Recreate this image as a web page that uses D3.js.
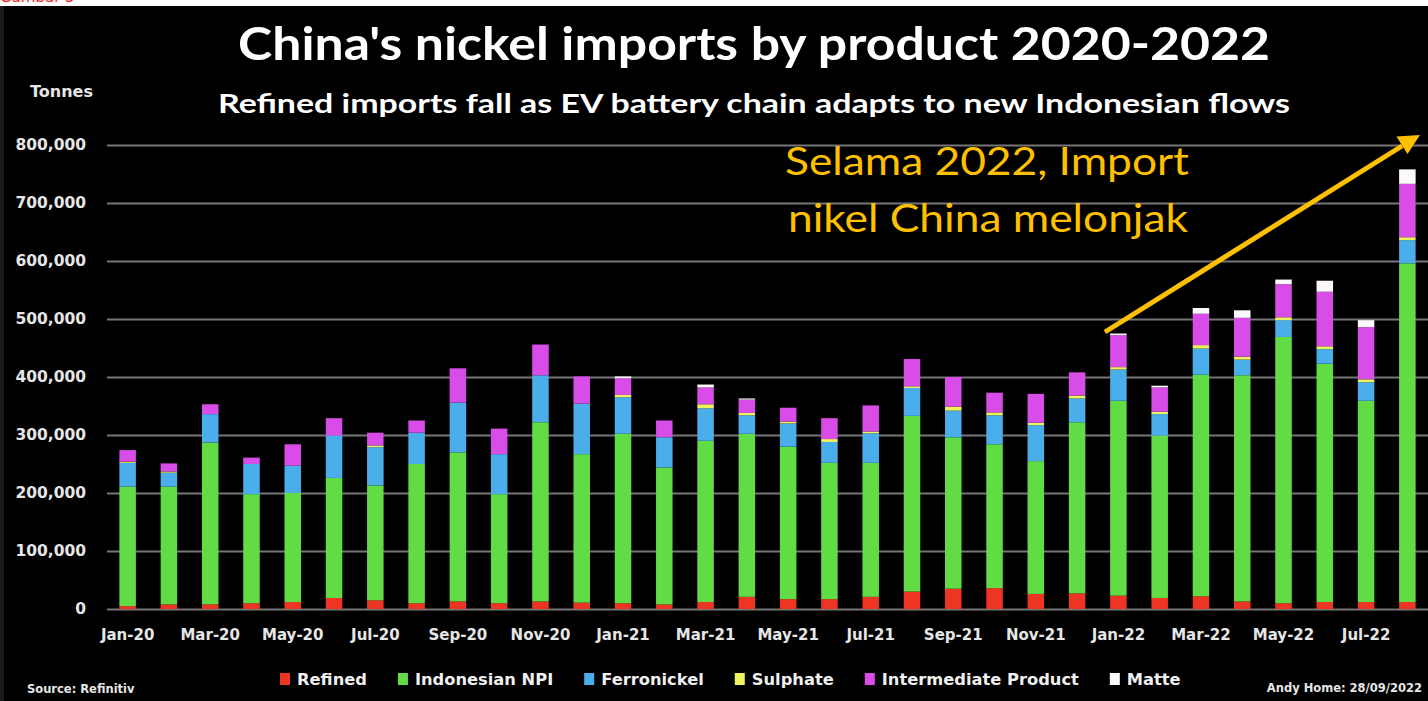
<!DOCTYPE html>
<html>
<head>
<meta charset="utf-8">
<script src="https://cdn.jsdelivr.net/npm/d3@7"></script>
<style>
  html, body { margin: 0; padding: 0; background: #000; }
  svg { display: block; }
</style>
</head>
<body>
<svg id="chart" width="1428" height="701"></svg>
<script>
// Monthly imports, tonnes
const months = [
  "Jan-20","Feb-20","Mar-20","Apr-20","May-20","Jun-20","Jul-20","Aug-20","Sep-20","Oct-20","Nov-20","Dec-20",
  "Jan-21","Feb-21","Mar-21","Apr-21","May-21","Jun-21","Jul-21","Aug-21","Sep-21","Oct-21","Nov-21","Dec-21",
  "Jan-22","Feb-22","Mar-22","Apr-22","May-22","Jun-22","Jul-22","Aug-22"
];
const refined      = [5000,8000,8000,10000,12000,19000,15000,10000,13000,10000,13000,11000,10000,8000,12000,21000,17000,17000,21000,30000,35000,36000,26000,27000,23000,19000,22000,13000,10000,12000,12000,12000];
const indonesianNPI= [206000,203000,279000,188000,188000,207000,198000,240000,257000,188000,309000,256000,292000,236000,278000,281000,263000,235000,231000,303000,261000,248000,229000,295000,336000,280000,382000,390000,459000,411000,347000,584000];
const ferronickel  = [41000,24000,49000,52000,47000,73000,66000,54000,86000,69000,81000,87000,63000,52000,56000,32000,40000,36000,51000,48000,46000,50000,62000,41000,54000,37000,45000,27000,29000,25000,32000,40000];
const sulphate     = [2000,2000,0,0,0,0,3000,0,0,0,0,0,4000,0,7000,4000,3000,5000,3000,3000,7000,5000,4000,5000,4000,4000,6000,5000,5000,5000,5000,5000];
const intermediate = [20000,14000,17000,11000,37000,30000,22000,21000,59000,44000,53000,47000,29000,29000,29000,23000,24000,36000,45000,47000,51000,34000,50000,40000,55000,42000,54000,67000,57000,94000,90000,92000];
const matte        = [0,0,0,0,0,0,0,0,0,0,0,0,3000,0,5000,2000,0,0,0,0,0,0,0,0,3000,3000,10000,13000,8000,19000,12000,25000];

const seriesNames  = ["Refined","Indonesian NPI","Ferronickel","Sulphate","Intermediate Product","Matte"];
const seriesValues = [refined, indonesianNPI, ferronickel, sulphate, intermediate, matte];
const seriesColors = ["#ee3524","#61dc45","#4aaeea","#eef25c","#d84ce8","#fbf7fb"];
const yTicks = [0,100000,200000,300000,400000,500000,600000,700000,800000];
const xTickLabels = months.filter((m, i) => i % 2 === 0);

const svg = d3.select("#chart");
const W = 1428, H = 701;

svg.append("rect").attr("width", W).attr("height", H).attr("fill", "#000");
// white strip along the top with the figure caption
svg.append("rect").attr("width", W).attr("height", 6).attr("fill", "#fff");
svg.append("text").attr("x", 0).attr("y", 2)
  .attr("font-family", "DejaVu Sans").attr("font-size", 15).attr("fill", "#ff1a1a")
  .text("Gambar 5");
svg.append("rect").attr("x", 0).attr("y", 6).attr("width", 4).attr("height", H - 6).attr("fill", "#1c1c1c");

const x = d3.scaleBand().domain(months).range([107, W]).paddingInner(0.6).paddingOuter(0.3);
const y = d3.scaleLinear().domain([0, 800000]).range([609, 145]);

// gridlines + y labels
const yAxis = svg.append("g").attr("transform", "translate(107,0)")
  .call(d3.axisLeft(y).tickValues(yTicks).tickSize(-(W - 107)).tickPadding(21).tickFormat(d3.format(",")));
yAxis.select(".domain").remove();
yAxis.selectAll(".tick line").attr("stroke", "#767676").attr("stroke-width", 2.2);
yAxis.selectAll(".tick text")
  .attr("fill", "#e6e6e6").attr("font-family", "DejaVu Sans").attr("font-weight", "bold").attr("font-size", 15.5);

// stacked bars
const rows = months.map((m, i) => {
  const r = { month: m };
  seriesNames.forEach((s, k) => { r[s] = seriesValues[k][i]; });
  return r;
});
const stacked = d3.stack().keys(seriesNames)(rows);
svg.append("g").selectAll("g").data(stacked).join("g")
  .attr("fill", (d, k) => seriesColors[k])
  .selectAll("rect").data(d => d).join("rect")
  .attr("x", d => x(d.data.month))
  .attr("width", x.bandwidth())
  .attr("y", d => y(d[1]))
  .attr("height", d => Math.max(0, y(d[0]) - y(d[1])));

// x labels
const xAxis = svg.append("g").attr("transform", "translate(0,609)")
  .call(d3.axisBottom(x).tickValues(xTickLabels).tickSize(0).tickPadding(20));
xAxis.select(".domain").remove();
xAxis.selectAll(".tick text")
  .attr("fill", "#e6e6e6").attr("font-family", "DejaVu Sans").attr("font-weight", "bold").attr("font-size", 15);

// axis unit
svg.append("text").attr("x", 30).attr("y", 97)
  .attr("fill", "#e6e6e6").attr("font-family", "DejaVu Sans").attr("font-weight", "bold").attr("font-size", 16)
  .text("Tonnes");

// titles
svg.append("text").attr("x", 238).attr("y", 60)
  .attr("fill", "#fff").attr("font-family", "Lato").attr("font-weight", "bold").attr("font-size", 46)
  .attr("textLength", 1032).attr("lengthAdjust", "spacingAndGlyphs")
  .text("China's nickel imports by product 2020-2022");
svg.append("text").attr("x", 218).attr("y", 113)
  .attr("fill", "#fff").attr("font-family", "Lato").attr("font-weight", "bold").attr("font-size", 27)
  .attr("textLength", 1072).attr("lengthAdjust", "spacingAndGlyphs")
  .text("Refined imports fall as EV battery chain adapts to new Indonesian flows");

// legend
const legend = svg.append("g");
let lx = 280;
seriesNames.forEach((s, k) => {
  legend.append("rect").attr("x", lx).attr("y", 673).attr("width", 10).attr("height", 12).attr("fill", seriesColors[k]);
  const t = legend.append("text").attr("x", lx + 17).attr("y", 685)
    .attr("fill", "#f0f0f0").attr("font-family", "DejaVu Sans").attr("font-weight", "bold").attr("font-size", 16.3)
    .text(s);
  lx += 17 + t.node().getComputedTextLength() + 31;
});

// footer
svg.append("text").attr("x", 27).attr("y", 693)
  .attr("fill", "#e6e6e6").attr("font-family", "DejaVu Sans").attr("font-weight", "bold").attr("font-size", 11.5)
  .text("Source: Refinitiv");
svg.append("text").attr("x", 1422).attr("y", 692).attr("text-anchor", "end")
  .attr("fill", "#e6e6e6").attr("font-family", "DejaVu Sans").attr("font-weight", "bold").attr("font-size", 11.5)
  .text("Andy Home: 28/09/2022");

// annotation
const orange = "#ffc000";
svg.append("text").attr("x", 785).attr("y", 175)
  .attr("fill", orange).attr("font-family", "Lato").attr("font-size", 39)
  .attr("textLength", 404).attr("lengthAdjust", "spacingAndGlyphs")
  .text("Selama 2022, Import");
svg.append("text").attr("x", 788).attr("y", 232)
  .attr("fill", orange).attr("font-family", "Lato").attr("font-size", 39)
  .attr("textLength", 400).attr("lengthAdjust", "spacingAndGlyphs")
  .text("nikel China melonjak");

// arrow: shaft ends at the head's base, head tip at (1420,135)
svg.append("line")
  .attr("x1", 1105).attr("y1", 332).attr("x2", 1402).attr("y2", 146)
  .attr("stroke", orange).attr("stroke-width", 5);
svg.append("path")
  .attr("d", "M1420,135 L1396.5,136.5 L1407.5,154 Z")
  .attr("fill", orange);
</script>
</body>
</html>
